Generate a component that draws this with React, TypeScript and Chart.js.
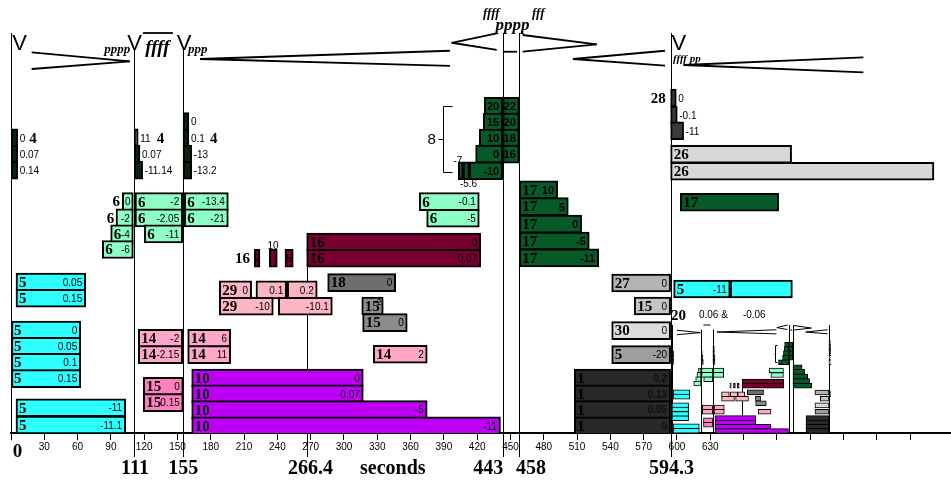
import React, { useEffect, useRef } from "react";
import { Chart, registerables } from "chart.js";

Chart.register(...registerables);

// [start seconds, end seconds, lane, tag, value]
type Bar = [number, number, number, string, string];

const blackBars: Bar[] = [
  [0, 6, 18.45, "", "0"],
  [0, 6, 17.44, "", "0.07"],
  [0, 6, 16.42, "", "0.14"],
  [111, 114.6, 18.45, "", "11"],
  [111, 116.2, 17.44, "", "0.07"],
  [111, 118.6, 16.42, "", "-11.14"],
  [155, 160.3, 19.47, "", "0"],
  [155, 160.3, 18.45, "", "0.1"],
  [155, 162.8, 17.44, "", "-13"],
  [155, 162.8, 16.42, "", "-13.2"],
];

const mintBars: Bar[] = [
  [100.3, 110.2, 14.46, "", "0"],
  [111.7, 154.7, 14.46, "6", "-2"],
  [156.1, 195.8, 14.46, "6", "-13.4"],
  [94.6, 110.2, 13.45, "", "-2"],
  [111.7, 154.7, 13.45, "6", "-2.05"],
  [156.1, 195.8, 13.45, "6", "-21"],
  [89.8, 110.2, 12.45, "6", "-4"],
  [120.1, 154.7, 12.45, "6", "-11"],
  [82.3, 110.2, 11.47, "6", "-6"],
  [367.8, 421.9, 14.46, "6", "-0.1"],
  [374.5, 421.9, 13.42, "6", "-5"],
];

const greenBars: Bar[] = [
  [426.4, 443, 20.42, "", "20"],
  [425.5, 443, 19.43, "", "15"],
  [421.9, 443, 18.44, "", "10"],
  [418.6, 443, 17.43, "", "0"],
  [403, 407.5, 16.39, "", ""],
  [407.5, 412.9, 16.39, "", ""],
  [412.9, 443, 16.39, "", "-10"],
  [443, 458, 20.42, "", "22"],
  [443, 458, 19.43, "", "20"],
  [443, 458, 18.44, "", "18"],
  [443, 458, 17.43, "", "16"],
  [458, 492.5, 15.2, "17", "10"],
  [458, 502.1, 14.15, "17", "5"],
  [458, 514.1, 13.05, "17", "0"],
  [458, 521, 12.0, "17", "-5"],
  [458, 529.5, 10.95, "17", "-11"],
  [603, 691.6, 14.42, "17", ""],
];

const burgundyBars: Bar[] = [
  [219.2, 224.3, 10.92, "", "2"],
  [232.7, 239.9, 10.92, "", ""],
  [246.8, 254.3, 10.92, "", "5"],
  [266.4, 423.2, 11.94, "16", "0"],
  [266.4, 423.2, 10.92, "16", "0.07"],
];

const cyanBars: Bar[] = [
  [4.5, 67.3, 9.44, "5", "0.05"],
  [4.5, 67.3, 8.42, "5", "0.15"],
  [0, 62.8, 6.44, "5", "0"],
  [0, 62.8, 5.42, "5", "0.05"],
  [0, 62.8, 4.41, "5", "0.1"],
  [0, 62.8, 3.4, "5", "0.15"],
  [4.5, 103.3, 1.58, "5", "-11"],
  [4.5, 103.3, 0.5, "5", "-11.1"],
  [597, 648, 9.0, "5", "-11"],
  [648, 704, 9.0, "", ""],
];

const purpleBars: Bar[] = [
  [162.8, 317.4, 3.44, "10", "0"],
  [162.8, 317.4, 2.45, "10", "0.07"],
  [162.8, 375, 1.46, "10", "-5"],
  [162.8, 441, 0.45, "10", "-11"],
];

const lightPinkBars: Bar[] = [
  [187.7, 216.8, 8.95, "29", "0"],
  [220.7, 248.4, 8.95, "", "0.1"],
  [248.9, 275.9, 8.95, "", "0.2"],
  [187.7, 236.3, 7.92, "29", "-10"],
  [240.8, 289.5, 7.92, "", "-10.1"],
];

const pinkBars14: Bar[] = [
  [114.7, 154.7, 5.92, "14", "-2"],
  [114.7, 154.7, 4.9, "14", "-2.15"],
  [159.2, 197.9, 5.92, "14", "6"],
  [159.2, 197.9, 4.9, "14", "11"],
  [326.4, 375, 4.92, "14", "2"],
];

const pinkBars15: Bar[] = [
  [119.2, 155.2, 2.92, "15", "0"],
  [119.2, 155.2, 1.9, "15", "0.15"],
];

const grayBars18: Bar[] = [[285.3, 346.6, 9.4, "18", "0"]];
const grayBars15: Bar[] = [
  [316, 335.4, 7.94, "15", "2"],
  [316.8, 357, 6.9, "15", "0"],
];
const darkBars1: Bar[] = [
  [507.5, 594.3, 3.44, "1", "0.2"],
  [507.5, 594.3, 2.45, "1", "0.13"],
  [507.5, 594.3, 1.46, "1", "0.05"],
  [507.5, 594.3, 0.45, "1", "0"],
];
const grayBars27: Bar[] = [[541.2, 594.3, 9.375, "27", "0"]];
const grayBars15b: Bar[] = [[561.5, 594.3, 7.94, "15", "0"]];
const grayBars30: Bar[] = [[541.2, 594.3, 6.4, "30", "0"]];
const grayBars5: Bar[] = [[541.2, 594.3, 4.9, "5", "-20"]];
const darkGrayBars28: Bar[] = [
  [594.3, 599.4, 20.94, "", "0"],
  [594.3, 600.3, 19.875, "", "-0.1"],
  [594.3, 606, 18.89, "", "-11"],
];
const lightGrayBars26: Bar[] = [
  [594.3, 703.3, 17.42, "26", ""],
  [594.3, 831.5, 16.36, "26", ""],
];

// section lines (seconds) with their top / bottom lanes
const sectionTimes = [0, 111, 155, 266.4, 443, 458, 594.3];
const sectionTops = [25, 23.94, 23.94, 12.5, 25, 25, 25];
const sectionBottoms = [-0.45, -1.5, -1.5, -1.5, -1.5, -1.5, -1.5];

// big labels below the axis: [seconds, baseline lane, text, align]
const axisLabels: [number, number, string, string][] = [
  [1.5, -1.5, "0", "left"],
  [111.7, -2.56, "111", "center"],
  [155.2, -2.56, "155", "center"],
  [269.8, -2.56, "266.4", "center"],
  [344, -2.56, "seconds", "center"],
  [443.5, -2.56, "443", "right"],
  [455, -2.56, "458", "left"],
  [595, -2.56, "594.3", "center"],
];

// hairpins and other strokes: [s1, lane1, s2, lane2]
const dynamicStrokes: [number, number, number, number][] = [
  [18.6, 23.79, 107.2, 23.23],
  [18.6, 22.75, 107.2, 23.23],
  [118.9, 25, 145.9, 25],
  [170.3, 23.375, 395.5, 23.89],
  [170.3, 23.375, 395.5, 22.94],
  [397, 24.39, 437.6, 24.98],
  [397, 24.39, 437.6, 23.94],
  [443.2, 23.83, 455.9, 23.83],
  [461, 24.875, 527.7, 24.29],
  [461, 23.83, 527.7, 24.29],
  [506.3, 23.375, 589.2, 23.89],
  [506.3, 23.375, 589.2, 22.96],
  [606, 23.0, 768, 23.48],
  [606, 23.0, 768, 22.54],
];

const bracketStrokes: [number, number, number, number][] = [
  [389.5, 20.44, 389.5, 16.33],
  [389.5, 20.44, 397, 20.44],
  [389.5, 16.33, 397, 16.33],
  [384.4, 18.375, 389.5, 18.375],
];

// free labels: [seconds, baseline lane, text, kind, align]
const looseLabels: [number, number, string, string, string][] = [
  [7.8, 23.94, "V", "v", "center"],
  [111.3, 23.94, "V", "v", "center"],
  [155.9, 23.94, "V", "v", "center"],
  [601.8, 23.94, "V", "v", "center"],
  [107.5, 23.75, "pppp", "dynS", "right"],
  [132, 23.75, "ffff", "dynL", "center"],
  [159.5, 23.75, "ppp", "dynS", "left"],
  [432.7, 25.97, "ffff", "dynS", "center"],
  [451.8, 25.2, "pppp", "dynM", "center"],
  [475, 25.97, "fff", "dynS", "center"],
  [596.4, 23.16, "ffff pp", "dynXS", "left"],
  [379, 18.06, "8", "mid", "center"],
  [402.7, 16.84, "-7", "small", "center"],
  [412.2, 15.375, "-5.6", "small", "center"],
  [236, 11.53, "10", "small", "center"],
  [215.3, 10.61, "16", "num", "right"],
  [98.2, 14.19, "6", "num", "right"],
  [93, 13.1, "6", "num", "right"],
  [16.5, 18.1, "4", "num", "left"],
  [131.3, 18.1, "4", "num", "left"],
  [179.3, 18.1, "4", "num", "left"],
  [590, 20.6, "28", "num", "right"],
  [594.6, 7.06, "20", "num", "left"],
  [619.8, 7.2, "0.06 &", "small", "left"],
  [659.4, 7.2, "-0.06", "small", "left"],
];

const fonts: Record<string, string> = {
  v: '22px "Liberation Sans"',
  dynXS: 'italic bold 11px "Liberation Serif"',
  dynS: 'italic bold 13px "Liberation Serif"',
  dynM: 'italic bold 17px "Liberation Serif"',
  dynL: 'italic bold 19px "Liberation Serif"',
  num: 'bold 15px "Liberation Serif"',
  mid: '15px "Liberation Sans"',
  small: '10px "Liberation Sans"',
  big: 'bold 20px "Liberation Serif"',
};

const TAG_FONT = 'bold 15px "Liberation Serif"';
const VALUE_FONT = '10px "Liberation Sans"';
const VALUE_BOLD = 'bold 10px "Liberation Sans"';

const groups = [
  { bars: blackBars, color: "#0a2412", outside: true },
  { bars: mintBars, color: "#8dffc4" },
  { bars: greenBars, color: "#065a28", valueFont: 'bold 11px "Liberation Sans"' },
  { bars: burgundyBars, color: "#780030" },
  { bars: cyanBars, color: "#2effff" },
  { bars: purpleBars, color: "#bd00f5" },
  { bars: lightPinkBars, color: "#ffb6c4" },
  { bars: pinkBars14, color: "#ffa6c9" },
  { bars: pinkBars15, color: "#ff80c0" },
  { bars: grayBars18, color: "#6e6e6e" },
  { bars: grayBars15, color: "#8c8c8c" },
  { bars: darkBars1, color: "#282828", valueFont: VALUE_BOLD, valueColor: "#111" },
  { bars: grayBars27, color: "#b4b4b4" },
  { bars: grayBars15b, color: "#c4c4c4" },
  { bars: grayBars30, color: "#dcdcdc" },
  { bars: grayBars5, color: "#9e9e9e" },
  { bars: darkGrayBars28, color: "#3a3a3a", outside: true },
  { bars: lightGrayBars26, color: "#d8d8d8" },
];

function buildDatasets(thickness: number, border: number) {
  return groups.map((g) => ({
    data: g.bars.map((b) => ({ x: [b[0], b[1]], y: b[2] })),
    backgroundColor: g.color,
    borderColor: "#000",
    borderWidth: border,
    borderSkipped: false,
    barThickness: thickness,
    grouped: false,
  }));
}

function makeOverlay(full: boolean) {
  return {
    id: full ? "overlayMain" : "overlayMini",
    beforeDatasetsDraw(chart: any) {
      const { ctx } = chart;
      const x = chart.scales.x;
      const y = chart.scales.y;
      ctx.save();
      ctx.strokeStyle = "#000";
      ctx.lineWidth = 1;
      sectionTimes.forEach((t, i) => {
        const px = Math.round(x.getPixelForValue(t)) + 0.5;
        ctx.beginPath();
        ctx.moveTo(px, y.getPixelForValue(sectionTops[i]));
        ctx.lineTo(px, y.getPixelForValue(full ? sectionBottoms[i] : 0));
        ctx.stroke();
      });
      ctx.lineWidth = full ? 1.8 : 1;
      dynamicStrokes.forEach(([a, b, c, d]) => {
        ctx.beginPath();
        ctx.moveTo(x.getPixelForValue(a), y.getPixelForValue(b));
        ctx.lineTo(x.getPixelForValue(c), y.getPixelForValue(d));
        ctx.stroke();
      });
      ctx.lineWidth = 1;
      bracketStrokes.forEach(([a, b, c, d]) => {
        ctx.beginPath();
        ctx.moveTo(Math.round(x.getPixelForValue(a)) + 0.5, Math.round(y.getPixelForValue(b)) + 0.5);
        ctx.lineTo(Math.round(x.getPixelForValue(c)) + 0.5, Math.round(y.getPixelForValue(d)) + 0.5);
        ctx.stroke();
      });
      ctx.restore();
    },
    afterDatasetsDraw(chart: any) {
      if (!full) return;
      const { ctx } = chart;
      const x = chart.scales.x;
      const y = chart.scales.y;
      ctx.save();
      ctx.textBaseline = "middle";
      for (const g of groups as any[]) {
        for (const [s, e, lane, tag, val] of g.bars) {
          const x0 = x.getPixelForValue(s);
          const x1 = x.getPixelForValue(e);
          const yc = y.getPixelForValue(lane);
          if (tag) {
            ctx.fillStyle = "#000";
            ctx.font = TAG_FONT;
            ctx.textAlign = "left";
            ctx.fillText(tag, x0 + 3, yc + 1);
          }
          if (val) {
            ctx.fillStyle = g.valueColor || "#000";
            ctx.font = g.valueFont || VALUE_FONT;
            if (g.outside) {
              ctx.textAlign = "left";
              ctx.fillText(val, x1 + 2, yc + 1);
            } else if (x1 - x0 < 12) {
              ctx.textAlign = "center";
              ctx.fillText(val, (x0 + x1) / 2, yc + 1);
            } else if (tag.length > 1 && x1 - x0 < 26) {
              // superscript next to a two-digit tag in a narrow box
              ctx.font = '9px "Liberation Sans"';
              ctx.textAlign = "right";
              ctx.fillText(val, x1 - 1.5, yc - 3);
            } else {
              ctx.textAlign = "right";
              ctx.fillText(val, x1 - 3.5, yc + 1);
            }
          }
        }
      }
      ctx.fillStyle = "#000";
      ctx.textBaseline = "alphabetic";
      for (const [s, lane, text, kind, align] of looseLabels) {
        ctx.font = fonts[kind];
        ctx.textAlign = align as CanvasTextAlign;
        ctx.fillText(text, x.getPixelForValue(s), y.getPixelForValue(lane));
      }
      for (const [s, lane, text, align] of axisLabels) {
        ctx.font = text === "0" ? 'bold 19px "Liberation Serif"' : fonts.big;
        ctx.textAlign = align as CanvasTextAlign;
        ctx.fillText(text, x.getPixelForValue(s), y.getPixelForValue(lane));
      }
      ctx.restore();
    },
  };
}

export default function App() {
  const mainRef = useRef<HTMLCanvasElement>(null);
  const miniRef = useRef<HTMLCanvasElement>(null);

  useEffect(() => {
    const main = new Chart(mainRef.current as HTMLCanvasElement, {
      type: "bar",
      data: { datasets: buildDatasets(18, 2) as any },
      options: {
        animation: false,
        responsive: false,
        devicePixelRatio: 1,
        indexAxis: "y",
        events: [],
        layout: { padding: { left: 11, right: 1, top: 0, bottom: 0 } },
        plugins: { legend: { display: false }, tooltip: { enabled: false } },
        scales: {
          y: { type: "linear", display: false, min: 0, max: 27.0625, offset: false },
          x: {
            type: "linear",
            min: 0,
            max: 846,
            afterFit: (s: any) => {
              s.height = 53;
            },
            afterBuildTicks: (s: any) => {
              s.ticks = s.ticks.filter((t: any) => t.value <= 810);
            },
            ticks: {
              stepSize: 30,
              includeBounds: false,
              autoSkip: false,
              maxRotation: 0,
              padding: 1,
              color: "#000",
              font: { family: "Liberation Sans", size: 10 },
              callback: (v: any) => (v > 0 && v <= 630 ? String(v) : ""),
            },
            grid: { drawOnChartArea: false, drawTicks: true, tickLength: 7, color: "#000", lineWidth: 1 },
            border: { display: true, color: "#000", width: 2 },
          },
        },
      } as any,
      plugins: [makeOverlay(true)],
    });

    const mini = new Chart(miniRef.current as HTMLCanvasElement, {
      type: "bar",
      data: { datasets: buildDatasets(4.9, 1) as any },
      options: {
        animation: false,
        responsive: false,
        devicePixelRatio: 1,
        indexAxis: "y",
        events: [],
        layout: { padding: 0 },
        plugins: { legend: { display: false }, tooltip: { enabled: false } },
        scales: {
          y: { type: "linear", display: false, min: 0, max: 27.08, offset: false },
          x: { type: "linear", display: false, min: 0, max: 602 },
        },
      } as any,
      plugins: [makeOverlay(false)],
    });

    return () => {
      main.destroy();
      mini.destroy();
    };
  }, []);

  return (
    <div style={{ position: "fixed", left: 0, top: 0, width: 951, height: 486, background: "#fff" }}>
      <canvas
        ref={mainRef}
        width={951}
        height={486}
        style={{ position: "absolute", left: 0, top: 0, width: 951, height: 486 }}
      />
      <canvas
        ref={miniRef}
        width={159}
        height={117}
        style={{ position: "absolute", left: 672, top: 316, width: 159, height: 117 }}
      />
    </div>
  );
}
